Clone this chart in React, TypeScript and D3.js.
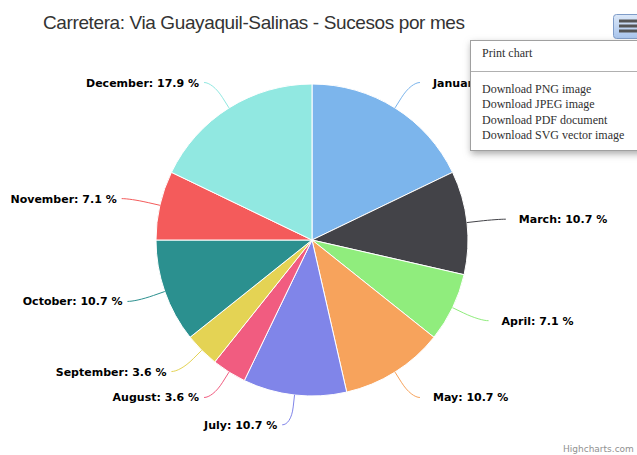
import React from 'react';
import * as d3 from 'd3';

const months = ['January', 'March', 'April', 'May', 'July', 'August', 'September', 'October', 'November', 'December'];
const counts = [5, 3, 2, 3, 3, 1, 1, 3, 2, 5];
const colors = ['#7cb5ec', '#434348', '#90ed7d', '#f7a35c', '#8085e9', '#f15c80', '#e4d354', '#2b908f', '#f45b5b', '#91e8e1'];
const titleText = 'Carretera: Via Guayaquil-Salinas - Sucesos por mes';
const printItem = 'Print chart';
const menuItems = ['Download PNG image', 'Download JPEG image', 'Download PDF document', 'Download SVG vector image'];
const creditText = 'Highcharts.com';

const W = 637;
const H = 455;
const cx = 312;
const cy = 240;
const r = 156;

export default function App() {
  const total = d3.sum(counts);
  const arcs = d3.pie<number>().sort(null).value((d) => d)(counts);
  const arcGen = d3.arc<d3.PieArcDatum<number>>().innerRadius(0).outerRadius(r);
  const labelR = r + 30;

  const labels = arcs.map((a, i) => {
    const mid = (a.startAngle + a.endAngle) / 2;
    const right = mid < Math.PI;
    const s = right ? 1 : -1;
    const y = cy - Math.cos(mid) * labelR;
    const dy = y - cy;
    const dx = Math.sqrt(Math.max(0, labelR * labelR - dy * dy));
    const xEnd = cx + s * (dx + 9);
    const tx = cx + s * (dx + (right ? 22 : 14));
    const bx = cx + Math.sin(mid) * r;
    const by = cy - Math.cos(mid) * r;
    const b2x = cx + Math.sin(mid) * (r + 12);
    const b2y = cy - Math.cos(mid) * (r + 12);
    const path = `M${xEnd},${y}C${xEnd - s * 5},${y} ${2 * b2x - bx},${2 * b2y - by} ${b2x},${b2y}L${bx},${by}`;
    const pct = ((counts[i] / total) * 100).toFixed(1);
    return { path, tx, ty: y + 4, anchor: right ? 'start' : 'end', text: `${months[i]}: ${pct} %`, color: colors[i] };
  });

  return (
    <svg width={W} height={H} style={{ position: 'absolute', left: 0, top: 0, background: '#fff' }}>
      <defs>
        <filter id="menuShadow" x="-20%" y="-20%" width="150%" height="150%">
          <feDropShadow dx="1" dy="3" stdDeviation="3.5" floodColor="#888" floodOpacity="0.7" />
        </filter>
        <linearGradient id="btnGrad" x1="0" y1="0" x2="0" y2="1">
          <stop offset="0" stopColor="#dce8f8" />
          <stop offset="1" stopColor="#a8c4ec" />
        </linearGradient>
      </defs>
      <rect x={0} y={0} width={W} height={H} fill="#fff" />
      <text x={43} y={29} fontFamily="'Liberation Sans', Arial, sans-serif" fontSize={19} fill="#333333"
        textLength={422} lengthAdjust="spacing">{titleText}</text>

      <g transform={`translate(${cx},${cy})`}>
        {arcs.map((a, i) => (
          <path key={i} d={arcGen(a) || ''} fill={colors[i]} stroke="#ffffff" strokeWidth={1} strokeLinejoin="round" />
        ))}
      </g>
      {labels.map((l, i) => (
        <g key={i}>
          <path d={l.path} fill="none" stroke={l.color} strokeWidth={1} />
          <text x={l.tx} y={l.ty} textAnchor={l.anchor} fontFamily="'DejaVu Sans', Verdana, sans-serif"
            fontWeight="bold" fontSize={11} fill="#000">{l.text}</text>
        </g>
      ))}

      <text x={563} y={452} fontFamily="'DejaVu Sans', Verdana, sans-serif" fontSize={9} fill="#909090">{creditText}</text>

      {/* export button */}
      <rect x={613.5} y={14.5} width={28} height={24} rx={3} fill="url(#btnGrad)" stroke="#7f9cc8" strokeWidth={1} />
      {[21, 26, 31].map((yy) => (
        <line key={yy} x1={619} x2={640} y1={yy} y2={yy} stroke="#555" strokeWidth={3} />
      ))}

      {/* export menu */}
      <rect x={470.5} y={40.5} width={200} height={110} fill="#fff" stroke="#a0a0a0" strokeWidth={1} filter="url(#menuShadow)" />
      <text x={482} y={57} fontFamily="'Liberation Serif', 'Times New Roman', serif" fontSize={12} fill="#303030">{printItem}</text>
      <line x1={471} x2={W} y1={71.5} y2={71.5} stroke="#b0b0b0" strokeWidth={1} />
      {menuItems.map((m, i) => (
        <text key={m} x={482} y={93 + i * 15.4} fontFamily="'Liberation Serif', 'Times New Roman', serif" fontSize={12} fill="#303030">{m}</text>
      ))}
    </svg>
  );
}
